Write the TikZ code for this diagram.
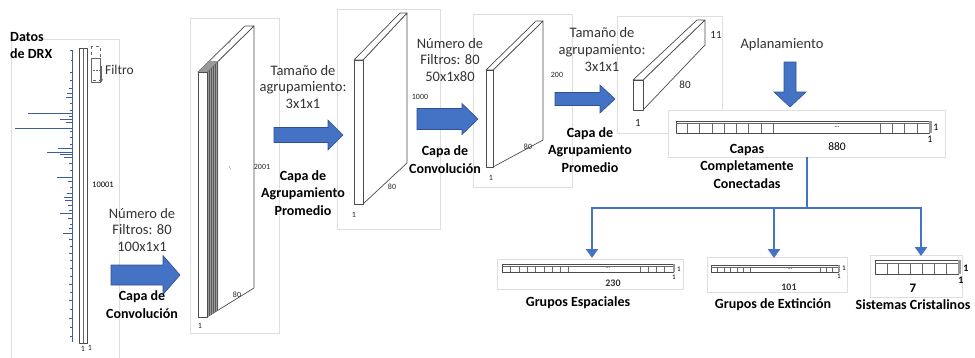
\documentclass[tikz,border=0pt]{standalone}
\usepackage{fontspec}
\setmainfont{Carlito}
\usetikzlibrary{arrows.meta}
\definecolor{obl}{HTML}{4472C4}
\definecolor{obld}{HTML}{2F528F}
\definecolor{specc}{HTML}{3C5E9E}
\definecolor{txt}{HTML}{333333}
\newcommand\rblockarrow[6]{%
  \draw[barw] (#1,{#3-#4}) -- (#6,{#3-#4}) -- (#6,{#3-#5}) -- (#2,#3) -- (#6,{#3+#5}) -- (#6,{#3+#4}) -- (#1,{#3+#4}) -- cycle;}
\begin{document}
\begin{tikzpicture}[x=1pt,y=-1pt,
  frame/.style={draw=black!13, line width=0.6pt, fill=white},
  blk/.style={draw=black!70, line width=0.7pt, fill=white, line join=round},
  thin/.style={draw=black!60, line width=0.5pt},
  barw/.style={fill=obl, draw=obld, line width=0.6pt},
  lbl/.style={font=\fontsize{14.5}{16.7}\selectfont, text=txt, align=center, inner sep=0},
  blbl/.style={font=\fontsize{14}{17.5}\selectfont\bfseries, text=black, align=center, inner sep=0},
  dim/.style={font=\fontsize{8}{8}\selectfont, text=black!85, inner sep=0},
  mdim/.style={font=\fontsize{11}{11}\selectfont, text=black!85, inner sep=0},
  spk/.style={draw=specc, line width=0.8pt},
  conn/.style={draw=obl, line width=2.6pt},
  tip/.style={-{Triangle[length=9pt,width=12pt]}}
]
\useasboundingbox (0,0) rectangle (975,357);
% ---------- frames ----------
\draw[frame] (11,39) rectangle (119,362);
\draw[frame] (190,18) rectangle (279,333);
\draw[frame] (337,9) rectangle (440,229);
\draw[frame] (473,14) rectangle (572,187);
\draw[frame] (617,16) rectangle (722,133);
\draw[frame] (668,110) rectangle (945,157);
\draw[frame] (497,259) rectangle (683,289);
\draw[frame] (707,257) rectangle (847,292);
\draw[frame] (870,255) rectangle (962,297);
% ---------- DRX data ----------
\node[blbl, anchor=west] (datos) at (10,37) {Datos};
\node[blbl, anchor=west] (dedrx) at (10,54) {de DRX};
\draw[spk] (72,50) -- (72,342);
\foreach \yy/\xx in {50/70,60/71,72/70,80/70,88/69,93/67,97/66,103/70,110/70,113/28,116/69,119/60,122/66,128/15,131/70,137/70,144/70,148/58,152/47,154.5/60,157/64,163/69,170/70,177/57,181/68,187/70,193/67,197/64,200/65,205/68,210/69,213/60,218/68,224/70,228/69,233/63,239/69,246/70,253/69,260/70,268/70,276/70,284/69,292/70,300/69,309/70,318/69,327/70,336/70}
  \draw[spk] (72,\yy) -- (\xx,\yy);
% input column
\draw[blk] (79,48) rectangle (87,343);
\draw[thin] (83,48) -- (83,343);
\node[dim] (in1a) at (83,349) {1};
\node[dim] (in1b) at (90,348) {1};
\node[font=\fontsize{8.5}{9}\selectfont, inner sep=0] (n10001) at (103,185) {10001};
% filter
\draw[thin, dashed] (91,46) rectangle (100,80);
\draw[thin] (91,58) rectangle (100,82);
\draw[thin, densely dotted] (91,70) -- (100,70);
\draw[thin, -{Stealth[length=3pt,width=3pt]}] (101.5,66) -- (101.5,82);
\node[font=\fontsize{13.5}{15}\selectfont, text=txt, anchor=west, inner sep=0] (filtro) at (105,70) {Filtro};
% ---------- arrow 1 ----------
\rblockarrow{111}{180}{275}{10}{19.5}{163}
\node[lbl] (t1) at (142,230) {Número de\\Filtros: 80\\100x1x1};
\node[blbl] (b1) at (142,304.5) {Capa de\\Convolución};
% ---------- slab 1 ----------
\draw[blk] (207,72) -- (254,26) -- (254,288) -- (207,317) -- cycle;
\fill[black!40] (207,72) -- (218,61) -- (218,310.5) -- (207,317) -- cycle;
\foreach \xx in {209,211,213,215,217} \draw[black!65, line width=0.3pt] (\xx,{72-(\xx-207)}) -- (\xx,{317-(\xx-207)*0.6});
\draw[blk] (198,72) -- (245,26) -- (254,26) -- (207,72) -- cycle;
\fill[black!40] (198,72) -- (207,72) -- (218,61) -- (209,61) -- cycle;
\draw[blk] (198,72) rectangle (207,317);
\node[font=\fontsize{5}{5}\selectfont, rotate=45, inner sep=0] (s1dots) at (230,43) {...};
\node[font=\fontsize{5}{5}\selectfont, rotate=-60, inner sep=0] (s1mid) at (230,168) {...};
\node[dim] (s1h) at (262,167) {2001};
\node[dim] (s1d) at (237,295) {80};
\node[dim] (s1w) at (200,326) {1};
% ---------- arrow 2 ----------
\rblockarrow{274}{343}{135}{7.5}{15}{328}
\node[lbl] (t2) at (303,87) {Tamaño de\\agrupamiento:\\3x1x1};
\node[blbl] (b2) at (303,193) {Capa de\\Agrupamiento\\Promedio};
% ---------- slab 2 ----------
\draw[blk] (363,60) -- (407,13) -- (407,163) -- (363,204) -- cycle;
\draw[blk] (354,60) -- (400,13) -- (407,13) -- (363,60) -- cycle;
\draw[blk] (354,60) rectangle (363,204);
\node[dim] (s2h) at (420,97) {1000};
\node[dim] (s2d) at (392,187) {80};
\node[dim] (s2w) at (354,215) {1};
% ---------- arrow 3 ----------
\rblockarrow{417}{478}{119}{10.5}{15.5}{462}
\node[lbl] (t3) at (450,60) {Número de\\Filtros: 80\\50x1x80};
\node[blbl] (b3) at (445,159.5) {Capa de\\Convolución};
% ---------- slab 3 ----------
\draw[blk] (493,70) -- (543,21) -- (543,140) -- (493,167) -- cycle;
\draw[blk] (486,70) -- (536,21) -- (543,21) -- (493,70) -- cycle;
\draw[blk] (486,70) rectangle (493,167);
\node[dim] (s3h) at (557,75) {200};
\node[dim] (s3d) at (528,147) {80};
\node[dim] (s3w) at (491,178) {1};
% ---------- arrow 4 ----------
\rblockarrow{555}{615}{99}{6.5}{14}{600}
\node[lbl] (t4) at (602,49.5) {Tamaño de\\agrupamiento:\\3x1x1};
\node[blbl] (b4) at (590,150) {Capa de\\Agrupamiento\\Promedio};
% ---------- block 4 ----------
\draw[blk] (643,80) -- (705,20) -- (705,45) -- (643,110) -- cycle;
\draw[blk] (633,80) -- (697,20) -- (705,20) -- (643,80) -- cycle;
\draw[blk] (633,80) rectangle (643,110);
\node[mdim] (s4h) at (716,35) {11};
\node[mdim] (s4d) at (685,85) {80};
\node[mdim] (s4w) at (638,123) {1};
% ---------- flatten ----------
\node[lbl] (apl) at (782,45) {Aplanamiento};
\draw[barw] (784,62) -- (796,62) -- (796,92) -- (806,92) -- (790,107) -- (774,92) -- (784,92) -- cycle;
% ---------- FC bar ----------
\draw[blk] (676,121) rectangle (929,133);
\draw[thin] (676,123.5) -- (929,123.5);
\foreach \xx in {687,699,712,724,736,748,761,773,880,892,904,917} \draw[thin] (\xx,123.5) -- (\xx,133);
\fill[black!40] (929,121) rectangle (931.5,133);
\node[font=\fontsize{7}{7}\selectfont, inner sep=0] (fcdots) at (837,127.5) {...};
\node[font=\fontsize{10}{10}\selectfont, inner sep=0] (fc1a) at (936,127) {1};
\node[font=\fontsize{10}{10}\selectfont, inner sep=0] (fc1b) at (930,139) {1};
\node[font=\fontsize{11.5}{12}\selectfont, inner sep=0] (fc880) at (837,147) {880};
\node[blbl] (fclbl) at (747,166) {Capas\\Completamente\\Conectadas};
% ---------- connectors ----------
\coordinate (fcout) at (807,157);
\coordinate (junc) at (807,208);
\coordinate (geIn) at (592,258);
\coordinate (gxIn) at (774,258);
\coordinate (scIn) at (921,256);
\draw[conn] (fcout) -- (junc);
\draw[conn, tip] (junc) -| (geIn);
\draw[conn, tip] (junc) -| (gxIn);
\draw[conn, tip] (junc) -| (scIn);
% ---------- Grupos Espaciales ----------
\draw[blk] (502,264) rectangle (673,272);
\draw[thin] (502,266) -- (673,266);
\foreach \xx in {510,519,527,535,544,552,560,568,640,648,656,664} \draw[thin] (\xx,266) -- (\xx,272);
\fill[black!40] (673,264) rectangle (675,272);
\node[font=\fontsize{6}{6}\selectfont, inner sep=0] (gedots) at (608,268) {...};
\node[font=\fontsize{7}{7}\selectfont, inner sep=0] (ge1a) at (679,269) {1};
\node[font=\fontsize{7}{7}\selectfont, inner sep=0] (ge1b) at (674,277) {1};
\node[font=\fontsize{10}{10}\selectfont\bfseries, text=black!80, inner sep=0] (ge230) at (613,283) {230};
\node[blbl] (gelbl) at (578,303) {Grupos Espaciales};
% ---------- Grupos de Extincion ----------
\draw[blk] (711,265) rectangle (838,272);
\draw[thin] (711,267) -- (838,267);
\foreach \xx in {717.5,724,730.5,737,743.5,750,820,826,832} \draw[thin] (\xx,267) -- (\xx,272);
\fill[black!40] (838,265) rectangle (840,272);
\node[font=\fontsize{6}{6}\selectfont, inner sep=0] (gxdots) at (790,269) {...};
\node[font=\fontsize{7}{7}\selectfont, inner sep=0] (gx1a) at (844,268) {1};
\node[font=\fontsize{7}{7}\selectfont, inner sep=0] (gx1b) at (839,276) {1};
\node[font=\fontsize{10}{10}\selectfont\bfseries, text=black!80, inner sep=0] (gx101) at (789,287) {101};
\node[blbl] (gxlbl) at (773,305) {Grupos de Extinción};
% ---------- Sistemas Cristalinos ----------
\draw[blk] (875,260) rectangle (958,274);
\draw[thin] (875,263) -- (958,263);
\foreach \xx in {886.9,898.7,910.6,922.4,934.3,946.1} \draw[thin] (\xx,263) -- (\xx,274);
\fill[black!40] (958,260) rectangle (960.5,274);
\node[font=\fontsize{10}{10}\selectfont\bfseries, inner sep=0] (sc1a) at (966,268) {1};
\node[font=\fontsize{10}{10}\selectfont\bfseries, inner sep=0] (sc1b) at (961,280) {1};
\node[font=\fontsize{13}{13}\selectfont\bfseries, inner sep=0] (sc7) at (913,288.5) {7};
\node[blbl] (sclbl) at (913,305) {Sistemas Cristalinos};
\end{tikzpicture}
\end{document}
